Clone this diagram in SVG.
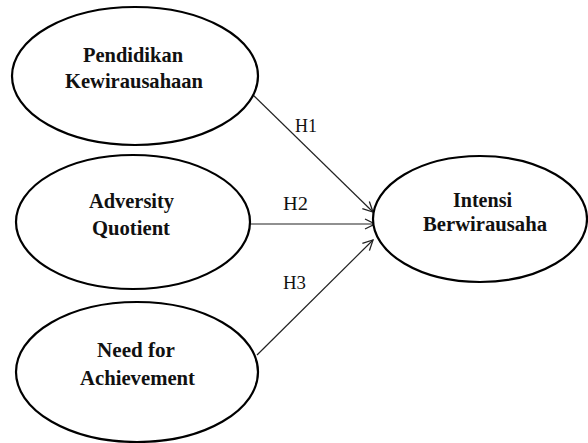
<svg xmlns="http://www.w3.org/2000/svg" width="588" height="443" viewBox="0 0 588 443">
<defs>
<marker id="arr" viewBox="0 0 12 12" refX="11" refY="6" markerWidth="12" markerHeight="12" markerUnits="userSpaceOnUse" orient="auto">
<path d="M1,1 L11,6 L1,11" fill="none" stroke="#222" stroke-width="1.3"/>
</marker>
</defs>
<style>
.node ellipse{fill:#fff;stroke:#000;stroke-width:2.2}
.node text{font-family:"Liberation Serif","Times New Roman",serif;font-weight:bold;font-size:22px;fill:#111;text-anchor:middle}
#node-intensi text{font-size:20px}
.edge line{stroke:#222;stroke-width:1.2;marker-end:url(#arr)}
.lbl{font-family:"Liberation Serif","Times New Roman",serif;font-size:19px;fill:#111;text-anchor:middle}
</style>
<rect width="588" height="443" fill="#fff"/>
<g id="connectors" class="edge">
<line x1="251" y1="93" x2="373" y2="212"/>
<line x1="250" y1="224" x2="375" y2="224"/>
<line x1="257" y1="355" x2="373" y2="240"/>
</g>
<g id="labels">
<text class="lbl" x="306" y="132" textLength="22" lengthAdjust="spacingAndGlyphs">H1</text>
<text class="lbl" x="295.5" y="210" textLength="25" lengthAdjust="spacingAndGlyphs">H2</text>
<text class="lbl" x="294.5" y="289" textLength="23" lengthAdjust="spacingAndGlyphs">H3</text>
</g>
<g id="node-pendidikan" class="node">
<ellipse cx="135" cy="76" rx="123" ry="69"/>
<text x="133" y="62" textLength="100" lengthAdjust="spacingAndGlyphs">Pendidikan</text>
<text x="134" y="88" textLength="138" lengthAdjust="spacingAndGlyphs">Kewirausahaan</text>
</g>
<g id="node-adversity" class="node">
<ellipse cx="133" cy="222" rx="117" ry="67"/>
<text x="131.5" y="208" textLength="85" lengthAdjust="spacingAndGlyphs">Adversity</text>
<text x="131" y="235" textLength="78" lengthAdjust="spacingAndGlyphs">Quotient</text>
</g>
<g id="node-need" class="node">
<ellipse cx="137" cy="372" rx="121" ry="70"/>
<text x="136" y="357" textLength="78" lengthAdjust="spacingAndGlyphs">Need for</text>
<text x="137.5" y="385" textLength="115" lengthAdjust="spacingAndGlyphs">Achievement</text>
</g>
<g id="node-intensi" class="node">
<ellipse cx="480" cy="219" rx="107" ry="63"/>
<text x="482.5" y="207" textLength="59" lengthAdjust="spacingAndGlyphs">Intensi</text>
<text x="485" y="231" textLength="124" lengthAdjust="spacingAndGlyphs">Berwirausaha</text>
</g>
</svg>
